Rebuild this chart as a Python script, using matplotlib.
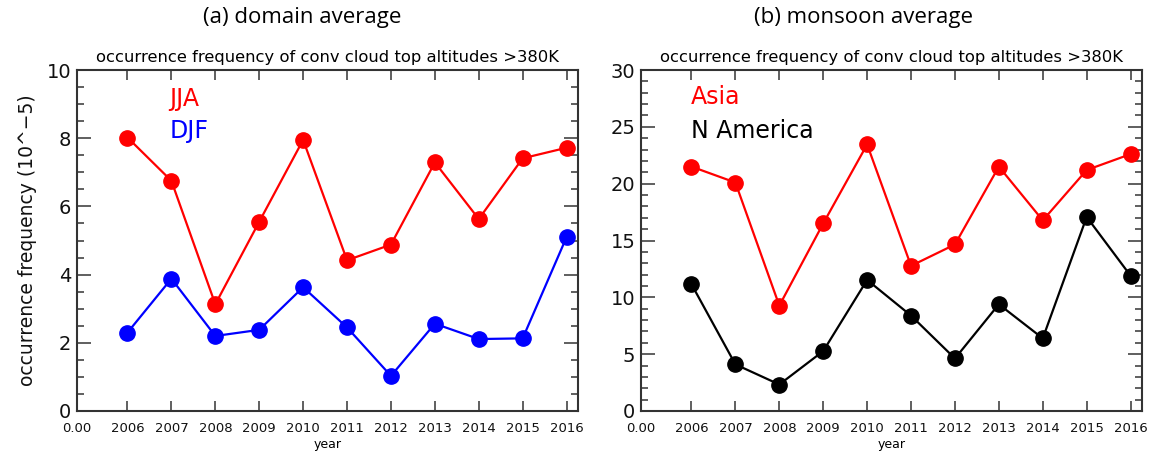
import numpy as np
import matplotlib
matplotlib.use('Agg')
import matplotlib.pyplot as plt
from matplotlib.ticker import MultipleLocator, FixedLocator

# data
years = ['2006', '2007', '2008', '2009', '2010', '2011', '2012', '2013', '2014', '2015', '2016']
tick_labels = ['0.00'] + years

jja = [8.02, 6.75, 3.13, 5.55, 7.95, 4.42, 4.88, 7.29, 5.63, 7.41, 7.72]
djf = [2.30, 3.88, 2.20, 2.38, 3.63, 2.45, 1.03, 2.56, 2.11, 2.13, 5.10]

asia = [21.5, 20.1, 9.27, 16.5, 23.45, 12.77, 14.65, 21.5, 16.77, 21.2, 22.6]
namerica = [11.15, 4.1, 2.33, 5.27, 11.53, 8.39, 4.62, 9.39, 6.39, 17.07, 11.9]

W, H = 1151, 451
fig = plt.figure(figsize=(W / 100, H / 100), dpi=100)

idl_font = 'DejaVu Sans'
title_font = 'Open Sans'
x0_lim = -0.15


def make_axes(x0, x1, y0, y1):
    return fig.add_axes([x0 / W, 1 - y1 / H, (x1 - x0) / W, (y1 - y0) / H])


def style(ax, ymax, ymajor, yminor):
    x = np.arange(len(years)) + 1
    ax.set_xlim(x0_lim, 11.26)
    ax.set_ylim(0, ymax)
    # first label "0.00" sits on the left edge of the frame
    ax.xaxis.set_major_locator(FixedLocator([x0_lim] + list(x)))
    ax.set_xticklabels(tick_labels, fontsize=9.5, family=idl_font, color='#111111')
    ax.yaxis.set_major_locator(MultipleLocator(ymajor))
    ax.yaxis.set_minor_locator(MultipleLocator(yminor))
    ax.tick_params(axis='both', which='both', direction='in', top=True, right=True,
                   color='#444444')
    ax.tick_params(axis='x', which='major', length=7, width=1.2, pad=8)
    ax.tick_params(axis='y', which='major', length=10, width=1.2, labelsize=14, pad=4,
                   labelcolor='#111111')
    ax.tick_params(axis='y', which='minor', length=5, width=1.2)
    for lab in ax.get_yticklabels():
        lab.set_family(idl_font)
    for s in ax.spines.values():
        s.set_linewidth(1.5)
        s.set_color('#333333')
    ax.set_xlabel('year', fontsize=9, family=idl_font, labelpad=2)
    ax.set_title('occurrence frequency of conv cloud top altitudes >380K',
                 fontsize=11.8, family=idl_font, pad=6)
    return x


# (a) domain average
ax1 = make_axes(77, 578, 70, 411)
x = style(ax1, 10, 2, 0.5)
ax1.plot(x, jja, color='red', lw=1.6, marker='o', ms=11)
ax1.plot(x, djf, color='blue', lw=1.6, marker='o', ms=11)
ax1.set_ylabel('occurrence frequency (10^\u22125)', fontsize=13.5, family=idl_font,
               labelpad=7, color='#111111')
ax1.text(0.185, 0.915, 'JJA', color='red', fontsize=17, family=idl_font,
         transform=ax1.transAxes, va='center')
ax1.text(0.185, 0.82, 'DJF', color='blue', fontsize=17, family=idl_font,
         transform=ax1.transAxes, va='center')
fig.text(302 / W, 1 - 18 / H, '(a) domain average', fontsize=16, family=title_font,
         ha='center', va='center')

# (b) monsoon average
ax2 = make_axes(641, 1142, 70, 411)
x = style(ax2, 30, 5, 1)
ax2.plot(x, asia, color='red', lw=1.6, marker='o', ms=11)
ax2.plot(x, namerica, color='black', lw=1.6, marker='o', ms=11)
ax2.text(0.10, 0.92, 'Asia', color='red', fontsize=17, family=idl_font,
         transform=ax2.transAxes, va='center')
ax2.text(0.10, 0.82, 'N America', color='black', fontsize=17, family=idl_font,
         transform=ax2.transAxes, va='center')
fig.text(864 / W, 1 - 18 / H, '(b) monsoon average', fontsize=16, family=title_font,
         ha='center', va='center')

fig.savefig('out.png', dpi=100)
